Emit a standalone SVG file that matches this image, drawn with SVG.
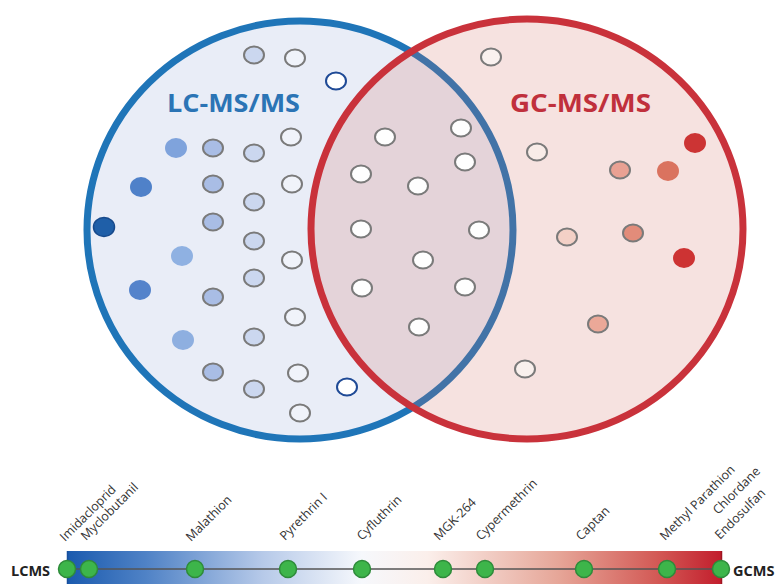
<svg xmlns="http://www.w3.org/2000/svg" width="778" height="584" viewBox="0 0 778 584">
<defs>
<linearGradient id="bar" x1="0" y1="0" x2="1" y2="0">
<stop offset="0" stop-color="#1a5aae"/>
<stop offset="0.12" stop-color="#4f82c6"/>
<stop offset="0.3" stop-color="#b7cae9"/>
<stop offset="0.45" stop-color="#f6f8fc"/>
<stop offset="0.55" stop-color="#fbefeb"/>
<stop offset="0.75" stop-color="#e6a698"/>
<stop offset="0.9" stop-color="#d35a56"/>
<stop offset="1" stop-color="#c21d2c"/>
</linearGradient>
<style>
.s{stroke:#7a7a7a;stroke-width:2}
.lab{font-family:"Open Sans","Liberation Sans",sans-serif;font-size:12.5px;fill:#333}
.end{font-family:"Open Sans","Liberation Sans",sans-serif;font-size:14.5px;font-weight:bold;fill:#222}
.title{font-family:"Open Sans","Liberation Sans",sans-serif;font-size:25px;font-weight:bold}
.gd{fill:#3db54a;stroke:#2e8b3a;stroke-width:1.5}
</style>
</defs>
<rect width="778" height="584" fill="#ffffff"/>
<g id="lcms-set">
<ellipse cx="300" cy="230" rx="213" ry="209" fill="#e9edf7" stroke="#1f75b8" stroke-width="7"/>
</g>
<g id="gcms-set">
<ellipse cx="527" cy="229" rx="216" ry="210" fill="rgb(212,110,98)" fill-opacity="0.2" stroke="none"/>
<ellipse cx="527" cy="229" rx="216" ry="210" fill="none" stroke="#c9323b" stroke-width="7"/>
</g>
<text class="title" x="167" y="112" fill="#2b74b5" textLength="133" lengthAdjust="spacingAndGlyphs">LC-MS/MS</text>
<text class="title" x="510" y="112" fill="#c0303c" textLength="141" lengthAdjust="spacingAndGlyphs">GC-MS/MS</text>
<g id="lc-dots">
<ellipse cx="176" cy="148" rx="11" ry="10" fill="#7fa3dc"/>
<ellipse cx="141" cy="187" rx="11" ry="10" fill="#4f81c9"/>
<ellipse cx="104" cy="227" rx="10.5" ry="9.5" fill="#1f5fa8" stroke="#174a8c" stroke-width="1.5"/>
<ellipse cx="182" cy="256" rx="11" ry="10" fill="#8fb1e2"/>
<ellipse cx="140" cy="290" rx="11" ry="10" fill="#5483cb"/>
<ellipse cx="183" cy="340" rx="11" ry="10" fill="#8eafe0"/>
<g fill="#a9bde5" class="s">
<ellipse cx="213" cy="148" rx="10" ry="8.5"/>
<ellipse cx="213" cy="184" rx="10" ry="8.5"/>
<ellipse cx="213" cy="222" rx="10" ry="8.5"/>
<ellipse cx="213" cy="297" rx="10" ry="8.5"/>
<ellipse cx="213" cy="372" rx="10" ry="8.5"/>
</g>
<g fill="#cbd7ef" class="s">
<ellipse cx="254" cy="55" rx="10" ry="8.5"/>
<ellipse cx="254" cy="153" rx="10" ry="8.5"/>
<ellipse cx="254" cy="202" rx="10" ry="8.5"/>
<ellipse cx="254" cy="241" rx="10" ry="8.5"/>
<ellipse cx="254" cy="278" rx="10" ry="8.5"/>
<ellipse cx="254" cy="337" rx="10" ry="8.5"/>
<ellipse cx="254" cy="389" rx="10" ry="8.5"/>
</g>
<g fill="#f0f3fa" class="s">
<ellipse cx="295" cy="58" rx="10" ry="8.5"/>
<ellipse cx="291" cy="137" rx="10" ry="8.5"/>
<ellipse cx="292" cy="184" rx="10" ry="8.5"/>
<ellipse cx="292" cy="260" rx="10" ry="8.5"/>
<ellipse cx="295" cy="317" rx="10" ry="8.5"/>
<ellipse cx="298" cy="373" rx="10" ry="8.5"/>
<ellipse cx="300" cy="413" rx="10" ry="8.5"/>
</g>
<g fill="#ffffff" stroke="#1f4a96" stroke-width="2">
<ellipse cx="336" cy="81" rx="10" ry="8.5"/>
<ellipse cx="347" cy="387" rx="10" ry="8.5"/>
</g>
</g>
<g id="shared-dots" fill="#fefefe" class="s">
<ellipse cx="385" cy="137" rx="10" ry="8.5"/>
<ellipse cx="461" cy="128" rx="10" ry="8.5"/>
<ellipse cx="465" cy="162" rx="10" ry="8.5"/>
<ellipse cx="361" cy="174" rx="10" ry="8.5"/>
<ellipse cx="418" cy="186" rx="10" ry="8.5"/>
<ellipse cx="361" cy="229" rx="10" ry="8.5"/>
<ellipse cx="479" cy="230" rx="10" ry="8.5"/>
<ellipse cx="423" cy="260" rx="10" ry="8.5"/>
<ellipse cx="362" cy="288" rx="10" ry="8.5"/>
<ellipse cx="465" cy="287" rx="10" ry="8.5"/>
<ellipse cx="419" cy="327" rx="10" ry="8.5"/>
</g>
<g id="gc-dots">
<ellipse cx="491" cy="57" rx="10" ry="8.5" fill="#f9f1ef" class="s"/>
<ellipse cx="537" cy="152" rx="10" ry="8.5" fill="#f8ece8" class="s"/>
<ellipse cx="620" cy="170" rx="10" ry="8.5" fill="#e9a193" class="s"/>
<ellipse cx="668" cy="171" rx="11" ry="10" fill="#da735f"/>
<ellipse cx="695" cy="143" rx="11" ry="10" fill="#cc3434"/>
<ellipse cx="567" cy="237" rx="10" ry="8.5" fill="#f3d0c6" class="s"/>
<ellipse cx="633" cy="233" rx="10" ry="8.5" fill="#e28c7a" class="s"/>
<ellipse cx="684" cy="258" rx="11" ry="10" fill="#cd3333"/>
<ellipse cx="598" cy="324" rx="10" ry="8.5" fill="#eba898" class="s"/>
<ellipse cx="525" cy="369" rx="10" ry="8.5" fill="#f9f0ed" class="s"/>
</g>
<g id="scale-bar">
<rect x="67" y="551" width="655" height="33" fill="url(#bar)"/>
<line x1="67.5" y1="551" x2="67.5" y2="584" stroke="#174f9c" stroke-width="1.5"/>
<line x1="721.5" y1="551" x2="721.5" y2="584" stroke="#9e1522" stroke-width="1.5"/>
</g>
<g id="connectors">
<line x1="67" y1="569" x2="721" y2="569" stroke="#555" stroke-width="1.5"/>
</g>
<g id="scale-points">
<circle class="gd" cx="67" cy="569" r="8.5"/>
<circle class="gd" cx="89" cy="569" r="8.5"/>
<circle class="gd" cx="195" cy="569" r="8.5"/>
<circle class="gd" cx="288" cy="569" r="8.5"/>
<circle class="gd" cx="362" cy="569" r="8.5"/>
<circle class="gd" cx="443" cy="569" r="8.5"/>
<circle class="gd" cx="485" cy="569" r="8.5"/>
<circle class="gd" cx="584" cy="569" r="8.5"/>
<circle class="gd" cx="667" cy="569" r="8.5"/>
<circle class="gd" cx="721" cy="569" r="8.5"/>
</g>
<text class="end" x="11" y="576">LCMS</text>
<text class="end" x="733" y="576">GCMS</text>
<g id="labels">
<text class="lab" x="65" y="542" transform="rotate(-45 65 542)">Imidacloprid</text>
<text class="lab" x="86" y="541" transform="rotate(-45 86 541)">Myclobutanil</text>
<text class="lab" x="191" y="542" transform="rotate(-45 191 542)">Malathion</text>
<text class="lab" x="285" y="541" transform="rotate(-45 285 541)">Pyrethrin I</text>
<text class="lab" x="362" y="541" transform="rotate(-45 362 541)">Cyfluthrin</text>
<text class="lab" x="439" y="541" transform="rotate(-45 439 541)">MGK-264</text>
<text class="lab" x="481" y="541" transform="rotate(-45 481 541)">Cypermethrin</text>
<text class="lab" x="581" y="541" transform="rotate(-45 581 541)">Captan</text>
<text class="lab" x="665" y="541" transform="rotate(-45 665 541)">Methyl Parathion</text>
<text class="lab" x="718" y="515" transform="rotate(-45 718 515)">Chlordane</text>
<text class="lab" x="720" y="540" transform="rotate(-45 720 540)">Endosulfan</text>
</g>
</svg>
